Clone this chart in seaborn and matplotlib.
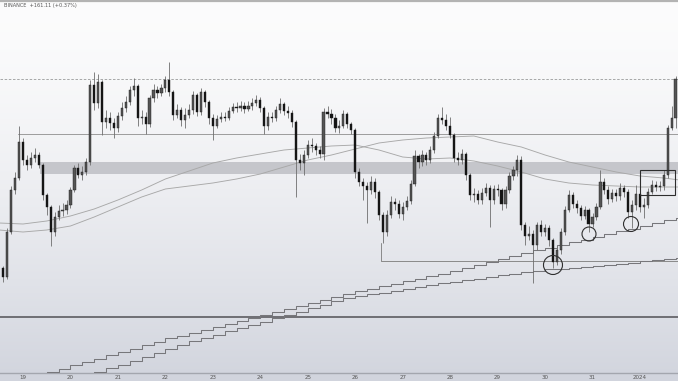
import numpy as np
import pandas as pd
import matplotlib
matplotlib.use("Agg")
import matplotlib.pyplot as plt
from matplotlib.patches import Ellipse, Rectangle
import seaborn as sns

# 2-hour candles, Dec 18 14:00 -> Jan 1 (time in days from Dec 19 00:00)
first_candle_day = -10 / 24
candle_step = 2 / 24

candle_open = [
    42320, 42230, 42680, 43100, 43220, 43580, 43400, 43350, 43420, 43450,
    43350, 43050, 42930, 42680, 42830, 42890, 42900, 42950, 43100, 43320,
    43250, 43280, 43380, 44150, 43970, 44180, 43780, 43820, 43770, 43720,
    43840, 43920, 43980, 44100, 44140, 43820, 43830, 43760, 44020, 44100,
    44070, 44120, 44200, 44080, 43850, 43900, 43800, 43850, 43900, 44050,
    43880, 44080, 43980, 43820, 43740, 43810, 43830, 43820, 43890, 43930,
    43920, 43940, 43910, 43940, 43970, 44000, 43920, 43740, 43830, 43820,
    43900, 43960, 43890, 43870, 43780, 43400, 43370, 43450, 43550, 43540,
    43500, 43460, 43880, 43860, 43820, 43720, 43740, 43860, 43760, 43700,
    43280, 43180, 43140, 43100, 43180, 43080, 42850, 42680, 42850, 42980,
    42960, 42860, 42930, 42990, 43160, 43440, 43380, 43450, 43400, 43500,
    43640, 43820, 43800, 43740, 43650, 43420, 43400, 43460, 43250, 43050,
    43060, 43000, 43070, 43120, 43000, 43110, 43100, 42960, 43100, 43240,
    43300, 43400, 42750, 42640, 42660, 42550, 42750, 42680, 42720, 42600,
    42380, 42500, 42680, 42900, 43050, 42960, 42920, 42840, 42900, 42760,
    42830, 42930, 43180, 43100, 43010, 43070, 43040, 43120, 43080, 42880,
    42950, 43060, 42930, 42950, 43080, 43150, 43130, 43140, 43250, 43720,
    43820,
]
candle_high = [
    42340, 42720, 43140, 43280, 43740, 43620, 43450, 43480, 43520, 43480,
    43370, 43070, 42950, 42880, 42950, 42970, 43000, 43130, 43350, 43370,
    43340, 43420, 44200, 44280, 44260, 44200, 43900, 43880, 43820, 43880,
    43980, 44040, 44140, 44220, 44160, 43900, 43880, 44050, 44160, 44140,
    44160, 44240, 44380, 44100, 43960, 43930, 43920, 43960, 44090, 44070,
    44120, 44100, 44000, 43860, 43850, 43880, 43880, 43930, 43970, 43980,
    43990, 43980, 43990, 44020, 44050, 44030, 43940, 43880, 43880, 43940,
    44020, 43980, 43940, 43900, 43800, 43460, 43500, 43600, 43620, 43570,
    43540, 43920, 43940, 43910, 43860, 43800, 43900, 43880, 43780, 43720,
    43320, 43220, 43180, 43240, 43220, 43100, 42880, 42900, 43040, 43020,
    43000, 42980, 43040, 43200, 43500, 43460, 43500, 43480, 43540, 43680,
    43860, 43930, 43860, 43830, 43670, 43480, 43510, 43480, 43270, 43120,
    43100, 43120, 43170, 43150, 43150, 43160, 43120, 43140, 43280, 43340,
    43450, 43440, 42780, 42740, 42700, 42780, 42800, 42760, 42750, 42620,
    42540, 42720, 42940, 43100, 43080, 43000, 42950, 42940, 42920, 42870,
    42970, 43300, 43220, 43140, 43110, 43110, 43170, 43150, 43110, 43000,
    43150, 43100, 43020, 43120, 43200, 43190, 43190, 43300, 43750, 43940,
    44240,
]
candle_low = [
    42180, 42210, 42660, 43060, 43200, 43350, 43300, 43320, 43380, 43320,
    43000, 42850, 42540, 42640, 42800, 42840, 42860, 42920, 43080, 43220,
    43200, 43250, 43350, 43900, 43920, 43650, 43720, 43700, 43620, 43680,
    43800, 43880, 43950, 44040, 43740, 43760, 43660, 43730, 43980, 44020,
    44040, 44080, 44040, 43800, 43820, 43740, 43720, 43820, 43860, 43840,
    43850, 43930, 43760, 43600, 43720, 43780, 43790, 43800, 43870, 43880,
    43890, 43870, 43890, 43900, 43940, 43880, 43660, 43700, 43780, 43790,
    43870, 43850, 43820, 43730, 43030, 43300, 43250, 43420, 43480, 43450,
    43420, 43400, 43820, 43760, 43680, 43670, 43720, 43720, 43660, 43220,
    43140, 43000, 42770, 43060, 43020, 42800, 42570, 42640, 42820, 42900,
    42820, 42800, 42900, 42960, 43140, 43320, 43340, 43350, 43370, 43470,
    43620, 43760, 43700, 43620, 43380, 43350, 43360, 43200, 43000, 42980,
    42960, 42960, 43040, 42730, 42960, 43040, 42900, 42920, 43070, 43200,
    43240, 42700, 42550, 42600, 42170, 42500, 42640, 42640, 42540, 42320,
    42350, 42460, 42650, 42880, 42920, 42870, 42800, 42810, 42680, 42730,
    42800, 42910, 43060, 42960, 42980, 42990, 43000, 43030, 42820, 42720,
    42900, 42880, 42820, 42920, 43060, 43090, 43090, 43100, 43220, 43700,
    43720,
]
candle_close = [
    42230, 42680, 43100, 43220, 43580, 43400, 43350, 43420, 43450, 43350,
    43050, 42930, 42680, 42830, 42890, 42900, 42950, 43100, 43320, 43250,
    43280, 43380, 44150, 43970, 44180, 43780, 43820, 43770, 43720, 43840,
    43920, 43980, 44100, 44140, 43820, 43830, 43760, 44020, 44100, 44070,
    44120, 44200, 44080, 43850, 43900, 43800, 43850, 43900, 44050, 43880,
    44080, 43980, 43820, 43740, 43810, 43830, 43820, 43890, 43930, 43920,
    43940, 43910, 43940, 43970, 44000, 43920, 43740, 43830, 43820, 43900,
    43960, 43890, 43870, 43780, 43400, 43370, 43450, 43550, 43540, 43500,
    43460, 43880, 43860, 43820, 43720, 43740, 43860, 43760, 43700, 43280,
    43180, 43140, 43100, 43180, 43080, 42850, 42680, 42850, 42980, 42960,
    42860, 42930, 42990, 43160, 43440, 43380, 43450, 43400, 43500, 43640,
    43820, 43800, 43740, 43650, 43420, 43400, 43460, 43250, 43050, 43060,
    43000, 43070, 43120, 43000, 43110, 43100, 42960, 43100, 43240, 43300,
    43400, 42750, 42640, 42660, 42550, 42750, 42680, 42720, 42600, 42380,
    42500, 42680, 42900, 43050, 42960, 42920, 42840, 42900, 42760, 42830,
    42930, 43180, 43100, 43010, 43070, 43040, 43120, 43080, 42880, 42950,
    43060, 42930, 42950, 43080, 43150, 43130, 43140, 43250, 43720, 43820,
    44210,
]

# Short moving averages sampled every 12 hours
ma_days = [-0.5, 0.0, 0.5, 1.0, 1.5, 2.0, 2.5, 3.0, 3.5, 4.0, 4.5, 5.0, 5.5,
           6.0, 6.5, 7.0, 7.5, 8.0, 8.5, 9.0, 9.5, 10.0, 10.5, 11.0, 11.5,
           12.0, 12.5, 13.0, 13.5, 14.0]
ma_fast = [42770, 42760, 42790, 42840, 42910, 43000, 43100, 43210, 43290,
           43370, 43420, 43460, 43500, 43520, 43540, 43550, 43500, 43430,
           43410, 43420, 43390, 43340, 43280, 43210, 43170, 43150, 43140,
           43130, 43130, 43130]
ma_slow = [42700, 42680, 42700, 42740, 42830, 42930, 43030, 43110, 43140,
           43170, 43210, 43260, 43330, 43400, 43450, 43510, 43570, 43600,
           43620, 43630, 43640, 43580, 43530, 43450, 43380, 43330, 43280,
           43240, 43220, 43190]

# Higher-timeframe averages, one value per 6-hour step from Dec 19 00:00
htf_step = 0.25
htf_fast = [41210, 41250, 41280, 41310, 41350, 41380, 41410, 41450, 41480,
            41510, 41550, 41580, 41620, 41640, 41670, 41700, 41730, 41760,
            41790, 41820, 41850, 41880, 41910, 41940, 41970, 42000, 42030,
            42060, 42090, 42110, 42140, 42160, 42190, 42210, 42240, 42260,
            42290, 42320, 42350, 42380, 42410, 42440, 42470, 42500, 42520,
            42550, 42580, 42600, 42630, 42660, 42690, 42710, 42740, 42770,
            42800, 42820, 42850]
htf_slow = [41040, 41080, 41120, 41160, 41200, 41240, 41280, 41320, 41350,
            41390, 41430, 41470, 41510, 41550, 41590, 41620, 41650, 41690,
            41720, 41750, 41780, 41820, 41850, 41880, 41920, 41950, 41990,
            42020, 42040, 42060, 42070, 42090, 42110, 42130, 42150, 42170,
            42180, 42200, 42210, 42230, 42250, 42260, 42280, 42290, 42310,
            42310, 42320, 42330, 42340, 42350, 42360, 42370, 42390, 42400,
            42410, 42420, 42430]

# Drawn levels
resistance_level = 43660
resistance_start = -0.105
zone_low, zone_high = 43260, 43380
zone_start = 0.358
support_level = 42390
support_pivot_day, support_pivot_low = 7.543, 42570
floor_level = 41830

# Marked higher lows (day, price, radius in px) and the breakout box
swing_marks = [(11.167, 42350, 9.5), (11.926, 42660, 7.0), (12.811, 42760, 7.5)]
box_days = (13.0, 13.738)
box_prices = (43050, 43300)

day_labels = ["19", "20", "21", "22", "23", "24", "25", "26", "27", "28",
              "29", "30", "31", "2024"]
header_text = "BINANCE  +161.11 (+0.37%)"

# ---------------------------------------------------------------- figure
sns.set_theme(style="white")
plt.rcParams["font.family"] = ["DejaVu Sans"]

W, H, DPI = 678, 381, 100
fig = plt.figure(figsize=(W / DPI, H / DPI), dpi=DPI)

# soft vertical background gradient
bg = fig.add_axes([0, 0, 1, 1], zorder=-5)
frac = np.linspace(0, 1, 256) ** 1.5
top_c = np.array([0.988, 0.988, 0.990])
bot_c = np.array([0.820, 0.832, 0.868])
grad = top_c[None, :] * (1 - frac[:, None]) + bot_c[None, :] * frac[:, None]
bg.imshow(grad[:, None, :], aspect="auto", extent=[0, 1, 0, 1])
bg.set_axis_off()

ax_bottom_px, ax_top_px = 8, 3
ax = fig.add_axes([0, ax_bottom_px / H, 1, 1 - (ax_bottom_px + ax_top_px) / H])
ax.set_facecolor("none")

x_left = -23 / 47.46
x_right = (W - 23) / 47.46
ax.set_xlim(x_left, x_right)
ax.set_ylim(41270, 44970)

# zone and horizontal levels
ax.fill_between([zone_start, x_right], zone_low, zone_high,
                color="#c5c6cb", lw=0, zorder=1)
ax.plot([resistance_start, x_right], [resistance_level] * 2,
        color="#9c9c9c", lw=0.7, zorder=2)
ax.axhline(candle_close[-1], color="#9a9a9a", lw=0.6, ls=(0, (3, 2)), zorder=2)
ax.axhline(floor_level, color="#5c5c60", lw=1.2, zorder=2)
ax.plot([support_pivot_day, support_pivot_day, x_right],
        [support_pivot_low, support_level, support_level],
        color="#8a8a8a", lw=0.7, zorder=2)

# short moving averages
ma_df = pd.DataFrame({"day": ma_days * 2,
                      "value": ma_fast + ma_slow,
                      "ma": ["fast"] * len(ma_days) + ["slow"] * len(ma_days)})
sns.lineplot(data=ma_df, x="day", y="value", units="ma", estimator=None,
             color="#a8a8a8", lw=0.65, ax=ax, legend=False, zorder=3)

# higher-timeframe averages as stepped lines
htf_days = [k * htf_step for k in range(len(htf_fast))]
ax.step(htf_days, htf_fast, where="post", color="#77777b", lw=0.75, zorder=3)
ax.step(htf_days, htf_slow, where="post", color="#77777b", lw=0.75, zorder=3)

# candles
days = [first_candle_day + i * candle_step for i in range(len(candle_close))]
ax.vlines(days, candle_low, candle_high, color="#6e6e6e", lw=0.6, zorder=4)
bodies_bottom = [min(o, c) for o, c in zip(candle_open, candle_close)]
bodies_height = [max(abs(c - o), 8) for o, c in zip(candle_open, candle_close)]
body_colors = ["#555555" if c >= o else "#141414"
               for o, c in zip(candle_open, candle_close)]
ax.bar(days, bodies_height, bottom=bodies_bottom, width=candle_step * 0.55,
       color=body_colors, edgecolor="#1a1a1a", linewidth=0.3, zorder=5)

# annotations: higher lows and breakout box
px_per_day = 47.46
price_per_px = 10.0
for d, p, r in swing_marks:
    ax.add_patch(Ellipse((d, p), 2 * r / px_per_day, 2 * r * price_per_px,
                         fill=False, ec="#2e2e2e", lw=0.8, zorder=6))
ax.add_patch(Rectangle((box_days[0], box_prices[0]),
                       box_days[1] - box_days[0], box_prices[1] - box_prices[0],
                       fill=False, ec="#2e2e2e", lw=0.8, zorder=6))

# axes styling
for side in ("top", "left", "right"):
    ax.spines[side].set_visible(False)
ax.spines["bottom"].set_color("#a3a6ae")
ax.spines["bottom"].set_linewidth(1.0)
ax.set_yticks([])
ax.set_xticks(range(len(day_labels)))
ax.set_xticklabels(day_labels)
ax.tick_params(axis="x", length=0, pad=1.2, labelsize=4, labelcolor="#555555")
ax.set_xlabel("")
ax.set_ylabel("")

# header strip and symbol text
fig.add_artist(plt.Line2D([0, 1], [1 - 1 / H, 1 - 1 / H],
                          color="#b3b3b3", lw=1.6, transform=fig.transFigure))
fig.text(4 / W, 1 - 6 / H, header_text, fontsize=3.6, color="#555555",
         ha="left", va="center")

fig.savefig("out.png", dpi=DPI)
